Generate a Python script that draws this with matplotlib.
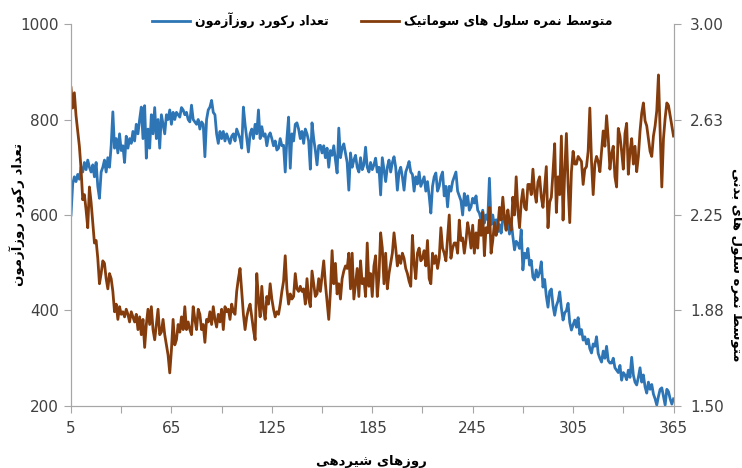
import numpy as np
import matplotlib
matplotlib.use("Agg")
import matplotlib.pyplot as plt

# Daily data, lactation days 5..365
days = np.arange(5, 366)

records = [
    600, 665, 680, 670, 685, 675, 700, 690, 710, 695,
    715, 700, 690, 705, 680, 710, 660, 635, 690, 700,
    715, 690, 720, 700, 745, 816, 740, 760, 730, 770,
    735, 745, 710, 765, 740, 760, 750, 775, 755, 790,
    770, 800, 826, 760, 829, 719, 780, 740, 810, 770,
    825, 760, 800, 740, 810, 790, 770, 810, 800, 820,
    790, 815, 800, 815, 810, 805, 825, 820, 810, 815,
    800, 795, 830, 800, 795, 790, 800, 780, 795, 790,
    722, 800, 820, 826, 840, 815, 810, 770, 750, 775,
    760, 775, 755, 770, 760, 750, 765, 770, 755, 780,
    770, 760, 740, 826, 790, 760, 732, 770, 780, 760,
    790, 770, 820, 760, 785, 765, 770, 745, 765, 772,
    760, 745, 755, 736, 740, 760, 745, 746, 690, 760,
    805, 698, 770, 755, 790, 793, 780, 760, 775, 750,
    780, 770, 755, 696, 793, 760, 735, 705, 745, 746,
    730, 745, 720, 740, 700, 735, 725, 745, 715, 688,
    782, 720, 740, 749, 730, 710, 652, 730, 700, 715,
    725, 700, 690, 720, 695, 705, 742, 700, 690, 710,
    695, 705, 719, 690, 700, 642, 720, 695, 670, 700,
    715, 690, 710, 722, 700, 652, 690, 700, 680, 652,
    690, 700, 712, 690, 685, 650, 680, 665, 690, 660,
    670, 680, 650, 670, 640, 604, 660, 680, 688, 650,
    660, 680, 690, 640, 660, 617, 660, 650, 670, 680,
    690, 650, 640, 630, 600, 645, 620, 640, 610, 617,
    635, 625, 640, 610, 604, 590, 610, 583, 600, 590,
    677, 580, 600, 575, 590, 565, 580, 562, 590, 600,
    570, 585, 560, 590, 555, 527, 545, 540, 530, 569,
    485, 520, 510, 530, 495, 505, 470, 464, 485, 470,
    480, 502, 449, 465, 430, 407, 440, 445, 410, 390,
    410, 420, 439, 405, 380, 395, 400, 415, 375, 359,
    370, 380, 365, 385, 350, 360, 338, 345, 330, 340,
    320, 311, 330, 325, 345, 310, 300, 292, 315, 300,
    325, 295, 290, 290, 300, 280, 275, 270, 285, 254,
    270, 265, 255, 275, 260, 302, 265, 250, 244, 260,
    280, 250, 265, 240, 227, 250, 235, 245, 225, 215,
    202, 220, 235, 238, 220, 202, 235, 230, 215, 204,
    215,
]

scs = [
    2.75, 2.67, 2.73, 2.64, 2.58, 2.52, 2.43, 2.31, 2.33, 2.27,
    2.20, 2.36, 2.30, 2.22, 2.14, 2.15, 2.08, 1.98, 2.02, 2.07,
    2.06, 2.00, 1.96, 2.02, 2.00, 1.95, 1.87, 1.90, 1.84, 1.89,
    1.86, 1.87, 1.85, 1.88, 1.86, 1.83, 1.87, 1.85, 1.83, 1.86,
    1.80, 1.85, 1.78, 1.84, 1.73, 1.82, 1.88, 1.82, 1.89, 1.80,
    1.76, 1.82, 1.88, 1.78, 1.79, 1.84, 1.78, 1.74, 1.70, 1.63,
    1.72, 1.84, 1.74, 1.76, 1.82, 1.79, 1.85, 1.80, 1.89, 1.80,
    1.83, 1.80, 1.78, 1.89, 1.84, 1.80, 1.88, 1.86, 1.80, 1.82,
    1.75, 1.84, 1.83, 1.87, 1.82, 1.89, 1.84, 1.81, 1.86, 1.83,
    1.88, 1.80, 1.89, 1.87, 1.88, 1.84, 1.90, 1.87, 1.86, 1.95,
    2.00, 2.04, 1.95, 1.86, 1.80, 1.85, 1.88, 1.90, 1.85, 1.80,
    1.76, 2.02, 1.92, 1.85, 1.97, 1.88, 1.84, 1.93, 1.90, 1.98,
    1.92, 1.88, 1.85, 1.87, 1.86, 1.90, 1.95, 1.99, 2.09, 1.96,
    1.90, 1.94, 1.92, 1.93, 2.02, 1.96, 1.95, 1.97, 1.95, 1.96,
    1.90, 2.00, 1.92, 1.89, 2.03, 1.98, 1.93, 1.94, 2.00, 1.95,
    2.01, 2.07, 1.98, 1.91, 1.84, 1.95, 2.11, 1.98, 2.06, 1.94,
    1.98, 1.92, 2.00, 2.03, 2.05, 2.04, 2.10, 1.96, 2.10, 1.92,
    1.98, 2.04, 1.93, 2.07, 1.98, 2.00, 1.93, 2.14, 1.97, 2.02,
    1.93, 2.05, 2.09, 1.93, 2.01, 2.18, 2.12, 1.98, 2.10, 1.96,
    2.02, 2.06, 2.10, 2.18, 2.12, 2.05, 2.09, 2.06, 2.10, 2.08,
    2.04, 2.02, 1.99, 1.97, 2.17, 2.06, 2.00, 2.10, 2.12, 2.07,
    2.08, 2.11, 2.05, 2.15, 2.00, 1.98, 2.10, 2.06, 2.09, 2.04,
    2.08, 2.20, 2.12, 2.10, 2.07, 2.16, 2.25, 2.08, 2.12, 2.14,
    2.14, 2.10, 2.23, 2.15, 2.16, 2.10, 2.15, 2.22, 2.18, 2.12,
    2.21, 2.10, 2.18, 2.12, 2.23, 2.17, 2.26, 2.09, 2.20, 2.18,
    2.28, 2.10, 2.15, 2.22, 2.17, 2.20, 2.28, 2.23, 2.32, 2.24,
    2.19, 2.27, 2.22, 2.19, 2.32, 2.25, 2.40, 2.27, 2.20, 2.30,
    2.35, 2.28, 2.27, 2.37, 2.37, 2.33, 2.43, 2.34, 2.30, 2.38,
    2.40, 2.32, 2.28, 2.36, 2.44, 2.20, 2.30, 2.32, 2.42, 2.53,
    2.26, 2.40, 2.33, 2.56, 2.23, 2.42, 2.57, 2.37, 2.22, 2.42,
    2.50, 2.45, 2.45, 2.48, 2.47, 2.46, 2.37, 2.43, 2.44, 2.50,
    2.67, 2.46, 2.33, 2.45, 2.48, 2.46, 2.42, 2.50, 2.58, 2.52,
    2.64, 2.55, 2.43, 2.49, 2.52, 2.40, 2.36, 2.59, 2.56, 2.50,
    2.43, 2.57, 2.61, 2.41, 2.50, 2.55, 2.45, 2.52, 2.42, 2.48,
    2.58, 2.65, 2.69, 2.62, 2.60, 2.55, 2.50, 2.48, 2.56, 2.60,
    2.66, 2.80, 2.58, 2.36, 2.55, 2.63, 2.69, 2.68, 2.64, 2.60,
    2.56,
]

x_ticks = list(range(5, 366, 30))
x_labels = [str(t) if (t - 5) % 60 == 0 else "" for t in x_ticks]
left_ticks = [200, 400, 600, 800, 1000]
right_ticks = [1.5, 1.875, 2.25, 2.625, 3.0]
right_labels = ["1.50", "1.88", "2.25", "2.63", "3.00"]

label_records = "تعداد رکورد روزآزمون"
label_scs = "متوسط نمره سلول های سوماتیک"
ylabel_right = "متوسط نمره سلول های بدنی"
xlabel = "روزهای شیردهی"

# matplotlib has no Arabic shaping, so pick presentation forms by hand
# (isolated, final, initial, medial)
FORMS = {
    "ا": ("\uFE8D", "\uFE8E", None, None),
    "آ": ("\uFE81", "\uFE82", None, None),
    "د": ("\uFEA9", "\uFEAA", None, None),
    "ر": ("\uFEAD", "\uFEAE", None, None),
    "ز": ("\uFEAF", "\uFEB0", None, None),
    "و": ("\uFEED", "\uFEEE", None, None),
    "ب": ("\uFE8F", "\uFE90", "\uFE91", "\uFE92"),
    "ت": ("\uFE95", "\uFE96", "\uFE97", "\uFE98"),
    "س": ("\uFEB1", "\uFEB2", "\uFEB3", "\uFEB4"),
    "ش": ("\uFEB5", "\uFEB6", "\uFEB7", "\uFEB8"),
    "ط": ("\uFEC1", "\uFEC2", "\uFEC3", "\uFEC4"),
    "ع": ("\uFEC9", "\uFECA", "\uFECB", "\uFECC"),
    "ل": ("\uFEDD", "\uFEDE", "\uFEDF", "\uFEE0"),
    "م": ("\uFEE1", "\uFEE2", "\uFEE3", "\uFEE4"),
    "ن": ("\uFEE5", "\uFEE6", "\uFEE7", "\uFEE8"),
    "ه": ("\uFEE9", "\uFEEA", "\uFEEB", "\uFEEC"),
    "ک": ("\uFB8E", "\uFB8F", "\uFB90", "\uFB91"),
    "ی": ("\uFBFC", "\uFBFD", "\uFBFE", "\uFBFF"),
}


def shape(text):
    out = []
    for i, ch in enumerate(text):
        if ch not in FORMS:
            out.append(ch)
            continue
        prev = text[i - 1] if i > 0 else ""
        nxt = text[i + 1] if i + 1 < len(text) else ""
        join_prev = prev in FORMS and FORMS[prev][2] is not None
        join_next = FORMS[ch][2] is not None and nxt in FORMS
        iso, fin, ini, med = FORMS[ch]
        if join_prev and join_next:
            out.append(med)
        elif join_prev:
            out.append(fin)
        elif join_next:
            out.append(ini)
        else:
            out.append(iso)
    return "".join(out)[::-1]


plt.rcParams["font.family"] = ["DejaVu Sans"]
grey = "#a6a6a6"
tick_col = "#404040"

fig = plt.figure(figsize=(7.42, 4.68), dpi=100)
ax = fig.add_axes([0.0957, 0.1325, 0.8120, 0.8162])
ax2 = ax.twinx()

ax.plot(days, records, color="#2e75b6", lw=2.0, label=shape(label_records))
ax2.plot(days, scs, color="#843c0c", lw=2.0, label=shape(label_scs))

ax.set_xlim(5, 365)
ax.set_ylim(200, 1000)
ax2.set_ylim(1.5, 3.0)

ax.set_xticks(x_ticks)
ax.set_xticklabels(x_labels)
ax.set_yticks(left_ticks)
ax2.set_yticks(right_ticks)
ax2.set_yticklabels(right_labels)

for a in (ax, ax2):
    for side in a.spines:
        a.spines[side].set_color(grey)
    a.spines["top"].set_visible(False)
    a.tick_params(colors=grey, labelcolor=tick_col, labelsize=11, length=5)
ax.tick_params(axis="x", pad=6)
ax2.tick_params(axis="y", pad=7)

bold = dict(fontsize=9.5, fontweight="bold", color="black")
fig.text(17 / 742, 1 - 215 / 468, shape(label_records), rotation=90,
         ha="center", va="center", **bold)
fig.text(736 / 742, 1 - 265 / 468, shape(ylabel_right), rotation=270,
         ha="center", va="center", **bold)
fig.text(0.5, 1 - 461 / 468, shape(xlabel), ha="center", va="center", **bold)

h1, l1 = ax.get_legend_handles_labels()
h2, l2 = ax2.get_legend_handles_labels()
fig.legend(h1 + h2, l1 + l2, loc="upper center", bbox_to_anchor=(0.515, 0.997),
           ncol=2, frameon=False, handlelength=3.0, handletextpad=0.4,
           columnspacing=2.6, prop={"weight": "bold", "size": 9})

fig.savefig("out.png", dpi=100)
